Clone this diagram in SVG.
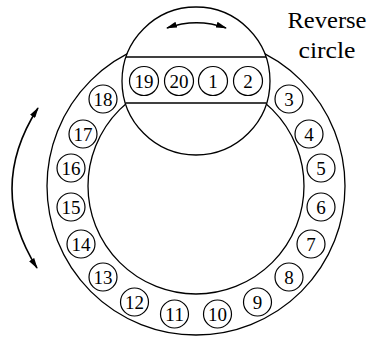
<svg xmlns="http://www.w3.org/2000/svg" width="369" height="337" viewBox="0 0 369 337">
<defs>
<marker id="ah" viewBox="0 0 11 6" refX="10" refY="3" markerWidth="11" markerHeight="6" markerUnits="userSpaceOnUse" orient="auto-start-reverse">
<path d="M0,0 L11,3 L0,6 Z" fill="#000"/>
</marker>
</defs>
<style>
.ring{fill:none;stroke:#000;stroke-width:1.3}
.n circle{fill:#fff;stroke:#000;stroke-width:1.2}
.n text{font-family:'Liberation Serif',Tinos,'Times New Roman','Nimbus Roman','FreeSerif','DejaVu Serif',serif;font-size:19px;text-anchor:middle;fill:#000}
.arr{fill:none;stroke:#000;stroke-width:1.6}
.lbl{font-family:'Liberation Serif',Tinos,'Times New Roman','Nimbus Roman','FreeSerif','DejaVu Serif',serif;font-size:23px;text-anchor:middle;fill:#000}
</style>
<rect width="369" height="337" fill="#fff"/>
<g id="ring">
<circle class="ring" cx="196" cy="186" r="149"/>
<circle class="ring" cx="196" cy="186" r="108"/>
</g>
<g id="reverse-circle">
<circle cx="196" cy="81" r="74" fill="#fff" stroke="#000" stroke-width="1.3"/>
<line class="ring" x1="126" y1="57" x2="266" y2="57"/>
<line class="ring" x1="125.4" y1="103" x2="266.6" y2="103"/>
</g>
<g id="n19" class="n"><circle cx="144" cy="81" r="14.5"/><text x="144" y="87.5" textLength="19" lengthAdjust="spacingAndGlyphs">19</text></g>
<g id="n20" class="n"><circle cx="179" cy="81" r="14.5"/><text x="179" y="87.5" textLength="19" lengthAdjust="spacingAndGlyphs">20</text></g>
<g id="n1" class="n"><circle cx="213" cy="81" r="14.5"/><text x="213" y="87.5">1</text></g>
<g id="n2" class="n"><circle cx="248" cy="81" r="14.5"/><text x="248" y="87.5">2</text></g>
<g id="n3" class="n"><circle cx="289" cy="99" r="14"/><text x="289" y="105.5">3</text></g>
<g id="n4" class="n"><circle cx="309" cy="134" r="14"/><text x="309" y="140.5">4</text></g>
<g id="n5" class="n"><circle cx="321" cy="168" r="14"/><text x="321" y="174.5">5</text></g>
<g id="n6" class="n"><circle cx="321" cy="207" r="14"/><text x="321" y="213.5">6</text></g>
<g id="n7" class="n"><circle cx="311" cy="244" r="14"/><text x="311" y="250.5">7</text></g>
<g id="n8" class="n"><circle cx="289" cy="277" r="14"/><text x="289" y="283.5">8</text></g>
<g id="n9" class="n"><circle cx="257.5" cy="302" r="14"/><text x="257.5" y="308.5">9</text></g>
<g id="n10" class="n"><circle cx="217.5" cy="314" r="14"/><text x="217.5" y="320.5" textLength="19" lengthAdjust="spacingAndGlyphs">10</text></g>
<g id="n11" class="n"><circle cx="174.5" cy="314" r="14"/><text x="174.5" y="320.5" textLength="19" lengthAdjust="spacingAndGlyphs">11</text></g>
<g id="n12" class="n"><circle cx="134.5" cy="302" r="14"/><text x="134.5" y="308.5" textLength="19" lengthAdjust="spacingAndGlyphs">12</text></g>
<g id="n13" class="n"><circle cx="103" cy="277" r="14"/><text x="103" y="283.5" textLength="19" lengthAdjust="spacingAndGlyphs">13</text></g>
<g id="n14" class="n"><circle cx="81" cy="244" r="14"/><text x="81" y="250.5" textLength="19" lengthAdjust="spacingAndGlyphs">14</text></g>
<g id="n15" class="n"><circle cx="71" cy="207" r="14"/><text x="71" y="213.5" textLength="19" lengthAdjust="spacingAndGlyphs">15</text></g>
<g id="n16" class="n"><circle cx="71" cy="168" r="14"/><text x="71" y="174.5" textLength="19" lengthAdjust="spacingAndGlyphs">16</text></g>
<g id="n17" class="n"><circle cx="83" cy="134" r="14"/><text x="83" y="140.5" textLength="19" lengthAdjust="spacingAndGlyphs">17</text></g>
<g id="n18" class="n"><circle cx="103" cy="99" r="14"/><text x="103" y="105.5" textLength="19" lengthAdjust="spacingAndGlyphs">18</text></g>
<g id="label">
<text class="lbl" x="327" y="28" textLength="79" lengthAdjust="spacingAndGlyphs">Reverse</text>
<text class="lbl" x="327" y="58" textLength="57" lengthAdjust="spacingAndGlyphs">circle</text>
</g>
<g id="connectors">
<path class="arr" d="M167,28 Q196.5,17.4 226,28" marker-start="url(#ah)" marker-end="url(#ah)"/>
<path class="arr" d="M38,108 Q-13.5,188 37,268" marker-start="url(#ah)" marker-end="url(#ah)"/>
</g>
</svg>
